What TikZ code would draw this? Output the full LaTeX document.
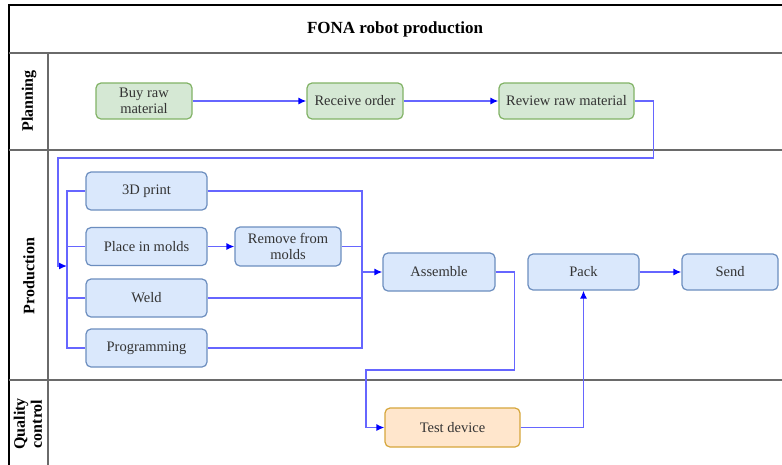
\documentclass[tikz,border=0pt]{standalone}
\usepackage{fontspec}
\setmainfont{Liberation Serif}
\usepackage{tikz}
\usetikzlibrary{arrows.meta,positioning,calc}
\definecolor{planfill}{HTML}{D5E8D4}
\definecolor{planline}{HTML}{82B366}
\definecolor{workfill}{HTML}{DAE8FC}
\definecolor{workline}{HTML}{6C8EBF}
\definecolor{testfill}{HTML}{FFE6CC}
\definecolor{testline}{HTML}{D6A73C}
\definecolor{wire}{HTML}{0000FF}
\definecolor{rule}{HTML}{6A6A6A}
\definecolor{ink}{HTML}{333333}
\tikzset{
  plan/.style={draw=planline,fill=planfill,rounded corners=5pt,align=center,
    minimum height=36pt,minimum width=96pt,inner sep=1pt,text=ink,line width=1.2pt,
    font=\fontsize{14.5}{16}\selectfont},
  work/.style={draw=workline,fill=workfill,rounded corners=5pt,align=center,
    minimum height=38pt,minimum width=121pt,inner sep=1pt,text=ink,line width=1.2pt,
    font=\fontsize{14.5}{16}\selectfont},
  check/.style={draw=testline,fill=testfill,rounded corners=5pt,align=center,
    minimum height=39pt,minimum width=135pt,inner sep=1pt,text=ink,line width=1.2pt,
    font=\fontsize{14.5}{16}\selectfont},
  lane/.style={rotate=90,align=center,font=\bfseries\fontsize{16}{17}\selectfont},
  arrow/.style={-{Latex[length=8pt,width=7pt,color=wire]},draw=wire!60,line width=1.4pt},
  link/.style={draw=wire!60,line width=1.4pt}
}
\begin{document}
\begin{tikzpicture}[x=1pt,y=-1pt]
  \useasboundingbox (0,0) rectangle (782,464);
  \clip (0,0) rectangle (782,464);
  \fill[white] (0,0) rectangle (782,464);
  % pool frame and lanes
  \draw[black,line width=1.1pt] (9,5) rectangle (800,480);
  \draw[rule,line width=1.5pt] (9,53) -- (800,53);
  \draw[rule,line width=1.5pt] (9,150) -- (800,150);
  \draw[rule,line width=1.5pt] (9,380) -- (800,380);
  \draw[rule,line width=1.5pt] (48,53) -- (48,480);
  \node[font=\bfseries\fontsize{17}{18}\selectfont] (title) at (395,29) {FONA robot production};
  \node[lane] (planlab) at (29,101) {Planning};
  \node[lane] (prodlab) at (29,276) {Production};
  \node[lane] (qualab) at (28,424) {Quality\\control};
  % tasks
  \node[plan] (buy) at (144,101) {Buy raw\\material};
  \node[plan] (receive) at (355,101) {Receive order};
  \node[plan,minimum width=135pt] (review) at (566.5,101) {Review raw material};
  \node[work] (print) at (146.5,191) {3D print};
  \node[work] (molds) at (146.5,246.5) {Place in molds};
  \node[work,minimum width=106pt,minimum height=39pt] (remove) at (288,246.5) {Remove from\\molds};
  \node[work] (weld) at (146.5,298) {Weld};
  \node[work] (prog) at (146.5,348) {Programming};
  \node[work,minimum width=112pt] (assemble) at (439,272) {Assemble};
  \node[work,minimum width=111pt,minimum height=36pt] (pack) at (583.5,272) {Pack};
  \node[work,minimum width=96pt,minimum height=36pt] (send) at (730,272) {Send};
  \node[check] (test) at (452.5,427.5) {Test device};
  % flow
  \coordinate (loop) at (58,158);
  \coordinate (split) at (67,266);
  \coordinate (merge) at (362,272);
  \coordinate (drop) at (366,370);
  \draw[arrow] (buy) -- (receive);
  \draw[arrow] (receive) -- (review);
  \draw[arrow] (review.east) -- ++(19,0) |- (loop) -- (loop |- split) -- (split);
  \foreach \n in {print,molds,weld,prog}
    \draw[link] (split) |- (\n.west);
  \draw[arrow] (molds) -- (remove);
  \foreach \n in {print,remove,weld,prog}
    \draw[link] (\n.east) -| (merge);
  \draw[arrow] (merge) -- (assemble);
  \draw[arrow] (assemble.east) -- ++(19,0) |- (drop) |- (test.west);
  \draw[arrow] (test.east) -| (pack.south);
  \draw[arrow] (pack) -- (send);
\end{tikzpicture}
\end{document}
